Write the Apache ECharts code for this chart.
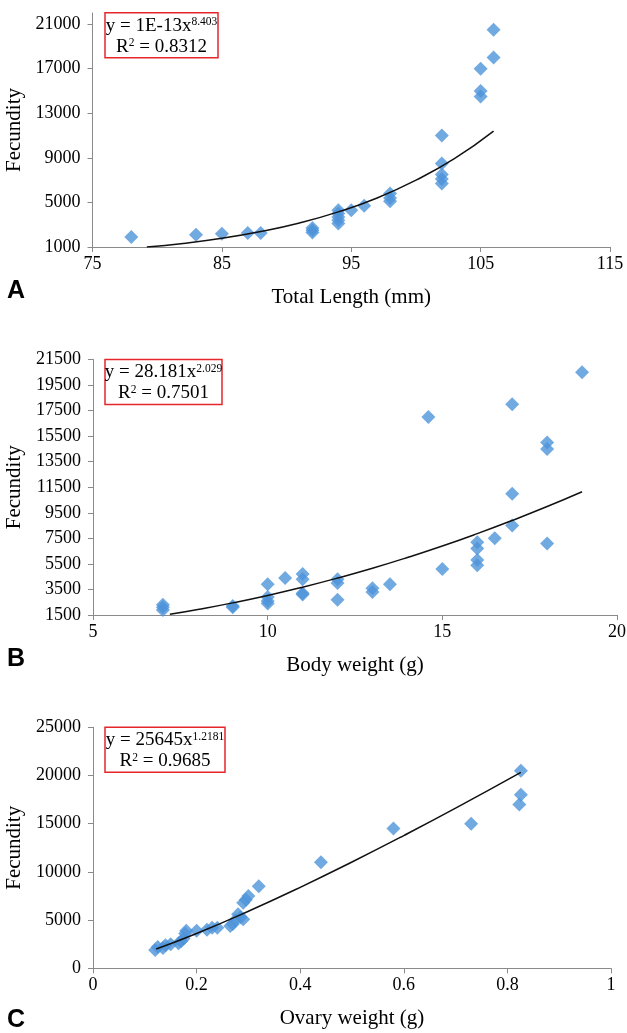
<!DOCTYPE html>
<html>
<head>
<meta charset="utf-8">
<script src="https://cdn.jsdelivr.net/npm/echarts@6/dist/echarts.min.js"></script>
<style>
html,body{margin:0;padding:0;background:#fff;}
#chart{width:627px;height:1033px;}
</style>
</head>
<body>
<div id="chart"></div>
<script>
// ---- Panel A: Total length vs fecundity ----
const lengthA = [78, 83, 85, 87, 88, 92, 92, 92, 94, 94, 94, 94, 94, 95, 96, 98, 98, 98, 102, 102, 102, 102, 102, 105, 105, 105, 106, 106];
const fecundityA = [1900, 2100, 2200, 2250, 2250, 2300, 2500, 2700, 3100, 3400, 3700, 4000, 4300, 4300, 4700, 5100, 5400, 5800, 11000, 8500, 7500, 7100, 6700, 17000, 15000, 14500, 20500, 18000];
const trendAx = [79.2, 82, 85, 88, 91, 94, 97, 100, 103, 106];
const trendAy = [1000, 1320, 1780, 2390, 3160, 4150, 5400, 7000, 8950, 11400];
const yTicksA = [1000, 5000, 9000, 13000, 17000, 21000];

// ---- Panel B: Body weight vs fecundity ----
const weightB = [7, 7, 7, 9, 9, 10, 10, 10, 10, 10.5, 11, 11, 11, 11, 12, 12, 12, 13, 13, 13.5, 14.6, 15, 16, 16, 16, 16, 16.5, 17, 17, 17, 18, 18, 18, 19];
const fecundityB = [1900, 2100, 2300, 2100, 2200, 3900, 2900, 2600, 2400, 4400, 4700, 4300, 3200, 3100, 4300, 4000, 2700, 3600, 3300, 3900, 17000, 5100, 7200, 6700, 5800, 5400, 7500, 18000, 11000, 8500, 15000, 14500, 7100, 20500];
const trendBx = [7.2, 8, 9, 10, 11, 12, 13, 14, 15, 16, 17, 18, 19];
const trendBy = [1550, 1930, 2450, 3030, 3680, 4390, 5160, 6000, 6900, 7870, 8900, 9990, 11150];

// ---- Panel C: Ovary weight vs fecundity ----
const ovaryC = [0.12, 0.125, 0.135, 0.14, 0.15, 0.165, 0.17, 0.175, 0.178, 0.18, 0.2, 0.22, 0.23, 0.24, 0.265, 0.27, 0.275, 0.28, 0.285, 0.29, 0.29, 0.295, 0.3, 0.32, 0.44, 0.58, 0.73, 0.823, 0.826, 0.826];
const fecundityC = [1900, 2200, 2100, 2400, 2500, 2600, 2800, 3100, 3600, 3900, 3900, 4000, 4200, 4200, 4400, 4600, 5000, 5600, 5300, 5100, 6800, 7100, 7500, 8500, 11000, 14500, 15000, 17000, 18000, 20500];
const trendCx = [0.122, 0.2, 0.3, 0.4, 0.5, 0.6, 0.7, 0.826];
const trendCy = [2000, 3610, 5920, 8400, 11030, 13770, 16610, 20320];

const panelLetters = ['A', 'B', 'C'];
const xTitles = ['Total Length (mm)', 'Body weight (g)', 'Ovary weight (g)'];
const yTitle = 'Fecundity';
const eqLine1 = [['y = 1E-13x', '8.403'], ['y = 28.181x', '2.029'], ['y = 25645x', '1.2181']];
const eqLine2 = ['0.8312', '0.7501', '0.9685'];

const FONT = 'Liberation Serif';
const AXIS_COLOR = '#8a8a8a';
const MARK_COLOR = '#4d94da';

const grids = [
  {left: 92.5, top: 13, width: 517.5, height: 234},
  {left: 93, top: 359.5, width: 524, height: 255.5},
  {left: 93, top: 727.3, width: 518, height: 241}
];
const xAxisCfg = [
  {min: 75, max: 115, interval: 10},
  {min: 5, max: 20, interval: 5},
  {min: 0, max: 1, interval: 0.2}
];
const yAxisCfg = [
  {min: 1000, max: 22000, interval: 4000, custom: yTicksA},
  {min: 1500, max: 21500, interval: 2000},
  {min: 0, max: 25000, interval: 5000}
];
const boxes = [
  {x: 105, y: 12.7, w: 113, h: 45},
  {x: 105, y: 359.5, w: 117, h: 45},
  {x: 105, y: 727.3, w: 120, h: 45}
];
const letterY = [291, 659, 1020];

function pairs(xs, ys){ return xs.map((x,i)=>[x, ys[i]]); }

const labelStyle = {fontFamily: FONT, fontSize: 18, color: '#000'};

const option = {
  backgroundColor: '#fff',
  animation: false,
  grid: grids.map(g => Object.assign({containLabel: false, outerBoundsMode: 'none'}, g)),
  xAxis: xAxisCfg.map((c, i) => ({
    type: 'value', gridIndex: i, min: c.min, max: c.max, interval: c.interval,
    name: xTitles[i], nameLocation: 'middle', nameGap: 40,
    nameTextStyle: {fontFamily: FONT, fontSize: 21, color: '#000'},
    axisLine: {show: true, lineStyle: {color: AXIS_COLOR, width: 1}},
    axisTick: {show: true, inside: false, length: 5, lineStyle: {color: AXIS_COLOR}},
    axisLabel: Object.assign({margin: 8, formatter: v => String(+v.toFixed(2))}, labelStyle),
    splitLine: {show: false}
  })),
  yAxis: yAxisCfg.map((c, i) => {
    const ax = {
      type: 'value', gridIndex: i, min: c.min, max: c.max, interval: c.interval,
      name: yTitle, nameLocation: 'middle', nameGap: 60, nameRotate: 90,
      nameTextStyle: {fontFamily: FONT, fontSize: 21, color: '#000'},
      axisLine: {show: true, lineStyle: {color: AXIS_COLOR, width: 1}},
      axisTick: {show: true, inside: false, length: 5, lineStyle: {color: AXIS_COLOR}},
      axisLabel: Object.assign({margin: 12, formatter: v => String(v)}, labelStyle),
      splitLine: {show: false}
    };
    if (c.custom) {
      ax.axisLabel.customValues = c.custom;
      ax.axisTick.customValues = c.custom;
    }
    return ax;
  }),
  series: [
    {type: 'scatter', xAxisIndex: 0, yAxisIndex: 0, data: pairs(lengthA, fecundityA)},
    {type: 'scatter', xAxisIndex: 1, yAxisIndex: 1, data: pairs(weightB, fecundityB)},
    {type: 'scatter', xAxisIndex: 2, yAxisIndex: 2, data: pairs(ovaryC, fecundityC)},
    {type: 'line', xAxisIndex: 0, yAxisIndex: 0, data: pairs(trendAx, trendAy)},
    {type: 'line', xAxisIndex: 1, yAxisIndex: 1, data: pairs(trendBx, trendBy)},
    {type: 'line', xAxisIndex: 2, yAxisIndex: 2, data: pairs(trendCx, trendCy)}
  ].map(s => s.type === 'scatter'
    ? Object.assign(s, {symbol: 'diamond', symbolSize: 14, itemStyle: {color: MARK_COLOR}, z: 2})
    : Object.assign(s, {smooth: true, symbol: 'none', lineStyle: {color: '#111', width: 1.5}, z: 3})),
  graphic: []
};

const richStyles = {
  b: {fontFamily: FONT, fontSize: 19, color: '#000', lineHeight: 19, verticalAlign: 'bottom'},
  s: {fontFamily: FONT, fontSize: 11.5, color: '#000', lineHeight: 19, verticalAlign: 'top', padding: [0, 0, 8, 0]}
};

boxes.forEach((b, i) => {
  option.graphic.push({
    type: 'rect', shape: {x: b.x, y: b.y, width: b.w, height: b.h},
    style: {fill: '#fff', stroke: '#e5262b', lineWidth: 1.5}, z: 10
  });
  const cx = b.x + b.w / 2;
  option.graphic.push({
    type: 'text', x: cx, y: b.y + 13, z: 11,
    style: {
      text: '{b|' + eqLine1[i][0] + '}{s|' + eqLine1[i][1] + '}',
      align: 'center', verticalAlign: 'middle', rich: richStyles
    }
  });
  option.graphic.push({
    type: 'text', x: cx, y: b.y + 34, z: 11,
    style: {
      text: '{b|R}{s|2}{b| = ' + eqLine2[i] + '}',
      align: 'center', verticalAlign: 'middle', rich: richStyles
    }
  });
  option.graphic.push({
    type: 'text', x: 7, y: letterY[i], z: 11,
    style: {text: panelLetters[i], fontFamily: 'Liberation Sans', fontWeight: 'bold', fontSize: 25, fill: '#000', verticalAlign: 'middle', align: 'left'}
  });
});

const chart = echarts.init(document.getElementById('chart'), null, {renderer: 'canvas'});
chart.setOption(option);
</script>
</body>
</html>
